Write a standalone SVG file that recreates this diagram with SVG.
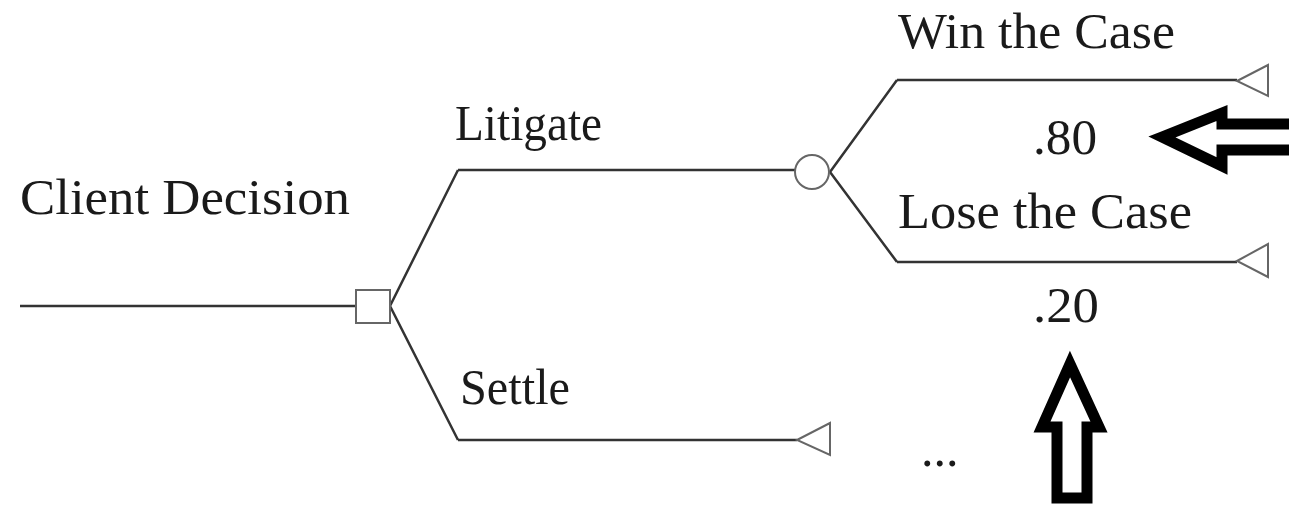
<svg xmlns="http://www.w3.org/2000/svg" width="1289" height="506" viewBox="0 0 1289 506">
<style>
.t{font-family:"Liberation Serif","Times New Roman",serif;font-size:50px;fill:#1a1a1a}
.ln{stroke:#333;stroke-width:2.5;fill:none}
.nd{stroke:#666;stroke-width:2;fill:#fff}
.big{stroke:#000;stroke-width:11;fill:#fff;stroke-linejoin:miter}
</style>
<rect width="1289" height="506" fill="#fff"/>
<g id="connectors">
<line class="ln" x1="20" y1="306" x2="356" y2="306"/>
<polyline class="ln" points="458,170 390,306 458,440"/>
<line class="ln" x1="458" y1="170" x2="796" y2="170"/>
<line class="ln" x1="458" y1="440" x2="797" y2="440"/>
<polyline class="ln" points="897,80 830,172 897,262"/>
<line class="ln" x1="897" y1="80" x2="1237" y2="80"/>
<line class="ln" x1="897" y1="262" x2="1237" y2="262"/>
</g>
<g id="decision"><rect class="nd" x="356" y="290" width="34" height="33"/></g>
<g id="chance"><circle class="nd" cx="812" cy="172" r="17"/></g>
<g id="end-win"><polygon class="nd" points="1237,81 1268,65 1268,96"/></g>
<g id="end-lose"><polygon class="nd" points="1237,261 1268,244 1268,277"/></g>
<g id="end-settle"><polygon class="nd" points="797,440 830,423 830,455"/></g>
<g id="labels">
<text class="t" x="20" y="214" textLength="330" lengthAdjust="spacingAndGlyphs">Client Decision</text>
<text class="t" x="455" y="140" textLength="147" lengthAdjust="spacingAndGlyphs">Litigate</text>
<text class="t" x="460" y="404" textLength="110" lengthAdjust="spacingAndGlyphs">Settle</text>
<text class="t" x="898" y="48" textLength="277" lengthAdjust="spacingAndGlyphs">Win the Case</text>
<text class="t" x="898" y="228" textLength="294" lengthAdjust="spacingAndGlyphs">Lose the Case</text>
<text class="t" x="1033" y="154" textLength="64" lengthAdjust="spacingAndGlyphs">.80</text>
<text class="t" x="1033" y="322" textLength="66" lengthAdjust="spacingAndGlyphs">.20</text>
<text class="t" x="921" y="466">...</text>
</g>
<g id="arrow-left"><polygon class="big" points="1162,137 1222,113 1222,124 1300,124 1300,150 1222,150 1222,166"/></g>
<g id="arrow-up"><polygon class="big" points="1070,364 1099,427 1087,427 1087,498 1057,498 1057,427 1042,427"/></g>
</svg>
